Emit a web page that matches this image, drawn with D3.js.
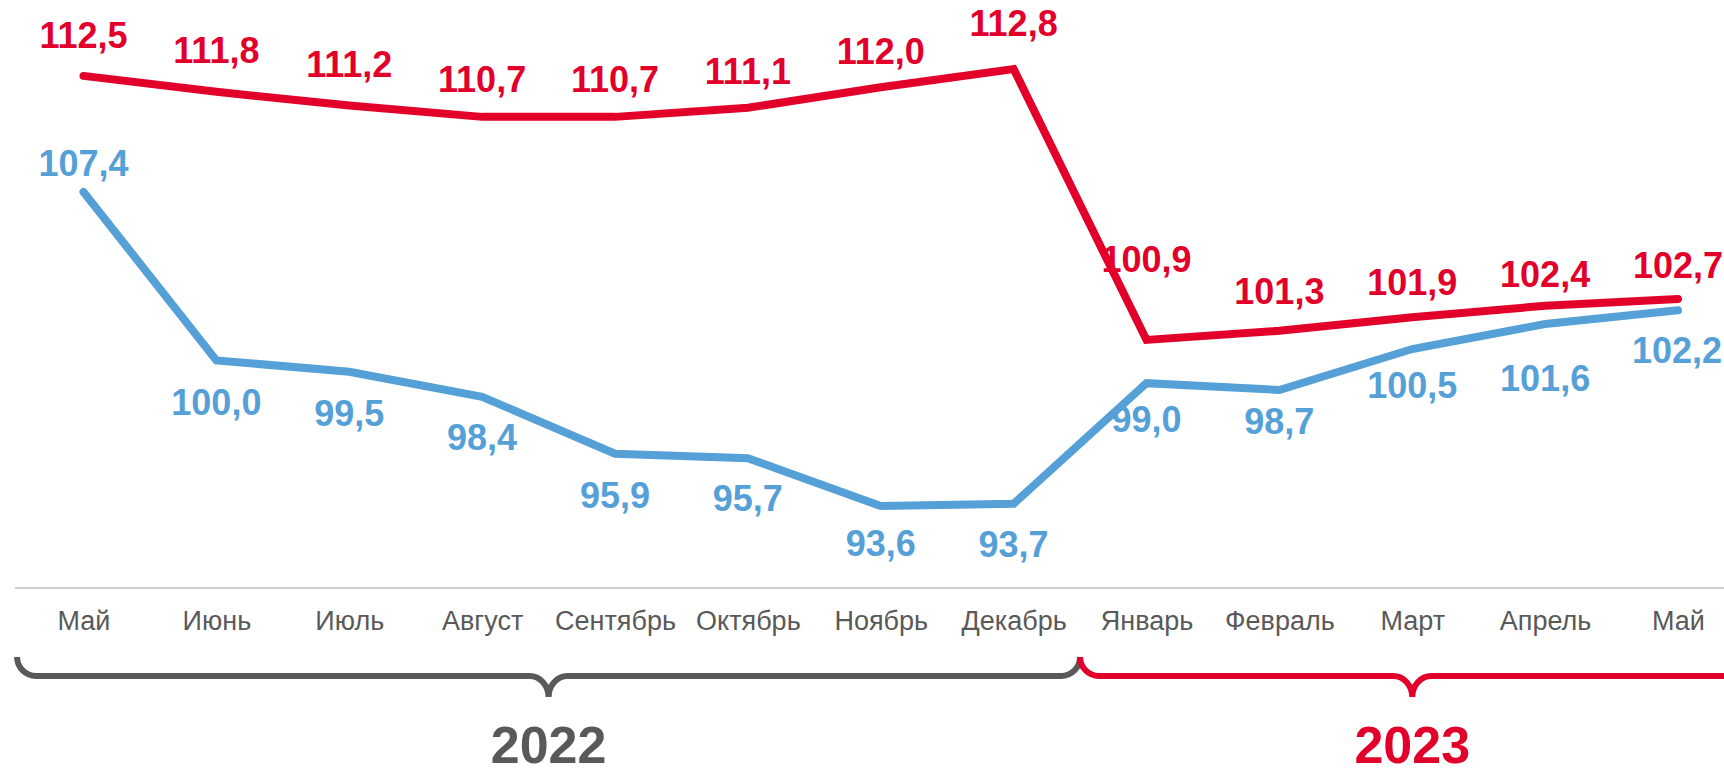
<!DOCTYPE html>
<html>
<head>
<meta charset="utf-8">
<script src="https://cdn.jsdelivr.net/npm/d3@7"></script>
<style>
  body { margin: 0; background: #fff; }
  svg { display: block; font-family: "Liberation Sans", Arial, sans-serif; }
</style>
</head>
<body>
<svg id="chart"></svg>
<script>
// данные
const months = ['Май', 'Июнь', 'Июль', 'Август', 'Сентябрь', 'Октябрь', 'Ноябрь', 'Декабрь',
  'Январь', 'Февраль', 'Март', 'Апрель', 'Май'];
const years = ['2022', '2023'];
const yearSpans = [[0, 7], [8, 12]];
const redValues = [112.5, 111.8, 111.2, 110.7, 110.7, 111.1, 112.0, 112.8, 100.9, 101.3, 101.9, 102.4, 102.7];
const blueValues = [107.4, 100.0, 99.5, 98.4, 95.9, 95.7, 93.6, 93.7, 99.0, 98.7, 100.5, 101.6, 102.2];

// подписи: смещения от точки (px)
const redLabelDy = [-28, -29, -28, -25, -25, -24, -23, -33, -68, -27, -22, -19, -21];
const blueLabelDy = [-16, 55, 54, 53, 54, 53, 50, 53, 49, 44, 49, 67, 53];

const W = 1724, H = 774;
const red = '#e2002b', blue = '#56a0d8', grey = '#595959';

const svg = d3.select('#chart').attr('width', W).attr('height', H);

const idx = d3.range(months.length);
const x = d3.scalePoint().domain(idx).range([83.5, 1678]);
const step = x.step();
const y = d3.scaleLinear().domain([90, 115]).range([588, 19]);

// ось X
svg.append('line')
  .attr('x1', 15).attr('x2', W)
  .attr('y1', y(90)).attr('y2', y(90))
  .attr('stroke', '#bfbfbf').attr('stroke-width', 1.5);

const xAxis = d3.axisBottom(x).tickSize(0).tickPadding(0).tickFormat((i) => months[i]);
const gx = svg.append('g').attr('transform', `translate(0,${y(90)})`).call(xAxis);
gx.select('.domain').remove();
gx.selectAll('text')
  .attr('y', 42).attr('dy', 0)
  .style('font-size', '27px')
  .style('font-family', '"Liberation Sans", Arial, sans-serif')
  .attr('fill', grey);

// линии
const line = d3.line().x((d, i) => x(i)).y((d) => y(d));

[[blueValues, blue], [redValues, red]].forEach(([vals, color]) => {
  svg.append('path')
    .datum(vals)
    .attr('d', line)
    .attr('fill', 'none')
    .attr('stroke', color)
    .attr('stroke-width', 8)
    .attr('stroke-linecap', 'round')
    .attr('stroke-linejoin', 'miter');
});

const fmt = (v) => v.toFixed(1).replace('.', ',');
const last = months.length - 1;

// подписи значений
svg.selectAll('.lbl-red').data(redValues).enter().append('text')
  .attr('class', 'lbl-red')
  .attr('x', (d, i) => x(i))
  .attr('y', (d, i) => y(d) + redLabelDy[i])
  .attr('text-anchor', 'middle')
  .attr('fill', red)
  .style('font-size', '36px').style('font-weight', 'bold')
  .text(fmt);

// последняя синяя подпись прижата к правому краю
svg.selectAll('.lbl-blue').data(blueValues).enter().append('text')
  .attr('class', 'lbl-blue')
  .attr('x', (d, i) => (i === last ? W - 2 : x(i)))
  .attr('y', (d, i) => y(d) + blueLabelDy[i])
  .attr('text-anchor', (d, i) => (i === last ? 'end' : 'middle'))
  .attr('fill', blue)
  .style('font-size', '36px').style('font-weight', 'bold')
  .text(fmt);

// фигурные скобки по годам
function brace(x0, x1) {
  const top = 657, bar = 676, tip = 697, r = 19, mid = (x0 + x1) / 2;
  return `M${x0},${top} A${r},${r} 0 0 0 ${x0 + r},${bar} L${mid - r},${bar} ` +
    `A${r},${tip - bar} 0 0 1 ${mid},${tip} A${r},${tip - bar} 0 0 1 ${mid + r},${bar} ` +
    `L${x1 - r},${bar} A${r},${r} 0 0 0 ${x1},${top}`;
}

const yearColors = [grey, red];
yearSpans.forEach(([a, b], k) => {
  const x0 = x(a) - step / 2, x1 = x(b) + step / 2;
  svg.append('path')
    .attr('d', brace(x0, x1))
    .attr('fill', 'none')
    .attr('stroke', yearColors[k])
    .attr('stroke-width', 6);
  svg.append('text')
    .attr('x', (x0 + x1) / 2)
    .attr('y', 763)
    .attr('text-anchor', 'middle')
    .attr('fill', yearColors[k])
    .style('font-size', '52px').style('font-weight', 'bold')
    .text(years[k]);
});
</script>
</body>
</html>
